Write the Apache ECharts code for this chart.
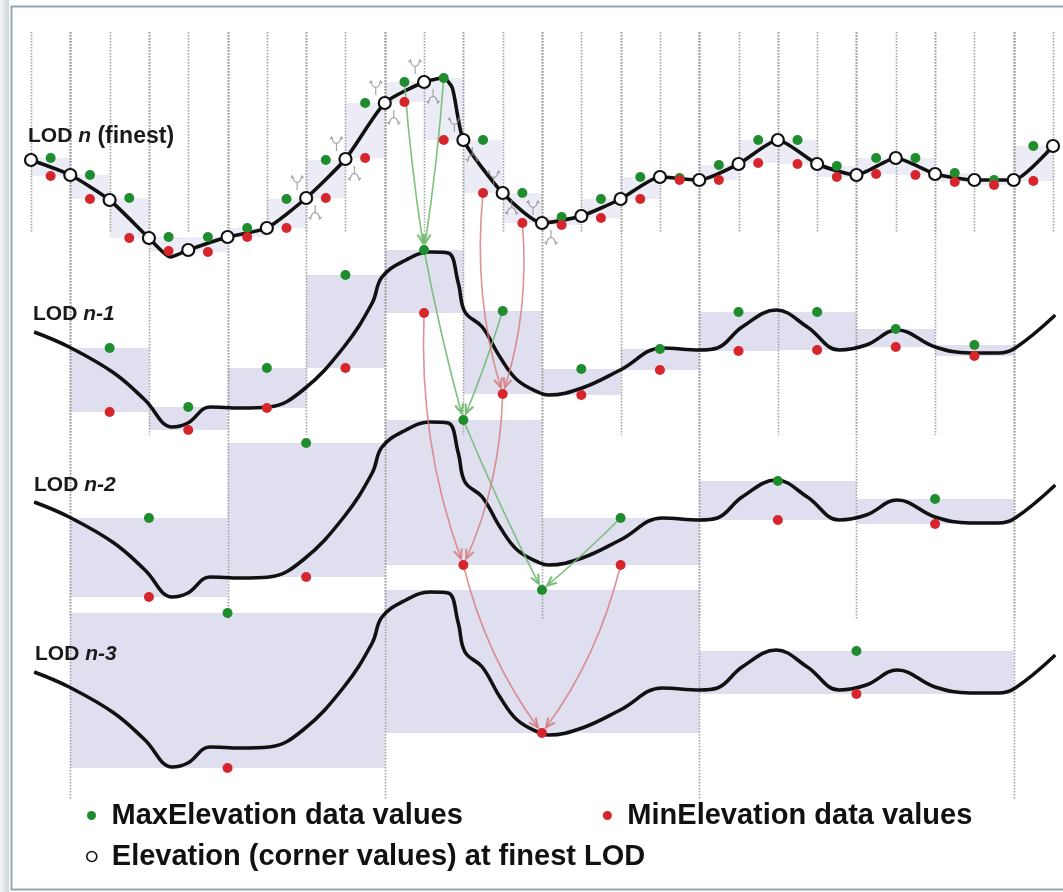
<!DOCTYPE html>
<html><head><meta charset="utf-8">
<script src="https://cdn.jsdelivr.net/npm/echarts@6/dist/echarts.min.js"></script>
<style>html,body{margin:0;padding:0;background:#fff}#c{width:1063px;height:892px}</style>
</head><body><div id="c"></div>
<script>
// x unit: one finest-LOD cell (corner index 0..26); y: elevation units
const levelNames = ['n', 'n-1', 'n-2', 'n-3'];
const cornerElev = [140,125,100,62,50,63,72,102,141,197,218,160,107,77,84,101,123,120,136,160,136,125,142,126,120,120,154];
const fineProfileX = [0,1,2,3,3.55,4,5,6,7,8,9,10,10.5,10.72,11,12,13,14,15,16,17,18,19,20,21,22,23,24,25,26];
const fineProfileE = [140,125,100,62,43,50,63,72,102,141,197,218,222,212,160,107,77,84,101,123,120,136,160,136,125,142,126,120,120,154];
const coarseProfileX = [0.08,0.97,2.11,2.9,3.59,3.99,4.55,5.34,6.06,6.92,7.96,8.68,8.93,9.54,10.15,10.61,10.87,11.04,11.48,11.93,12.37,12.95,13.16,14.02,14.99,16.06,17.02,17.46,18.09,18.96,19.75,20.56,21.25,22.04,23,23.89,24.61,25.04,26.06];
const coarseProfileE = [138,123,97,70,43,47,63,62,63,80,123,167,193,210,218,217,187,158,143,113,90,77,75,82,100,122,120,122,143,160,143,120,125,140,123,117,117,122,155];
const maxN0 = [142,125,102,63,63,72,101,140,197,218,222,160,107,83,101,123,122,135,160,160,134,142,142,127,120,154];
const minN0 = [124,101,62,49,48,63,72,102,142,198,160,107,77,75,82,101,120,120,137,136,123,126,125,118,115,119];
const maxN1 = [122,63,102,195,220,159,101,121,158,158,141,125];
const minN1 = [58,40,62,102,157,76,75,100,119,120,123,114];
const maxN2 = [122,197,220,122,159,141];
const minN2 = [43,63,75,75,120,116];
const maxN3 = [197,220,159];
const minN3 = [42,77,116];
const blockStart = [0, 1, 1, 1];
const blockSpan = [1, 2, 4, 8];
// arrows: [fromLevel, fromBlock, toLevel, toBlock, kind 0=max 1=min]
const arrowList = [
  [0,9,1,4,0],[0,10,1,4,0],[1,4,2,2,0],[1,5,2,2,0],[2,2,3,1,0],[2,3,3,1,0],
  [0,11,1,5,1],[0,12,1,5,1],[1,4,2,2,1],[1,5,2,2,1],[2,2,3,1,1],[2,3,3,1,1]
];
const squiggleCorners = [7,8,9,10,11,12,13];
const legendMax = 'MaxElevation data values';
const legendMin = 'MinElevation data values';
const legendCorner = 'Elevation (corner values) at finest LOD';

const maxArr = [maxN0, maxN1, maxN2, maxN3];
const minArr = [minN0, minN1, minN2, minN3];
const FF = '"Liberation Sans", Arial, sans-serif';
const GREEN = '#1f8c2e', RED = '#d7252d';
const gridH = [200, 403, 588, 768];
const yMax = [268, 438, 608, 778];

const chart = echarts.init(document.getElementById('c'));
const center = (lv, j) => blockStart[lv] + (j + 0.5) * blockSpan[lv];

const grids = [], xAxes = [], yAxes = [], series = [];
for (let lv = 0; lv < 4; lv++) {
  grids.push({left: 31, width: 1022, top: 32, height: gridH[lv], outerBoundsMode: 'none'});
  xAxes.push({type: 'value', gridIndex: lv, min: 0, max: 26, show: false});
  yAxes.push({type: 'value', gridIndex: lv, min: yMax[lv] - gridH[lv], max: yMax[lv], show: false});
  const nb = maxArr[lv].length;
  // shaded min-max rectangles
  series.push({
    type: 'custom', xAxisIndex: lv, yAxisIndex: lv, z: 1, silent: true, clip: false,
    data: maxArr[lv].map((mx, j) => [blockStart[lv] + j * blockSpan[lv], minArr[lv][j], blockStart[lv] + (j + 1) * blockSpan[lv], mx]),
    renderItem: (params, api) => {
      const a = api.coord([api.value(0), api.value(3)]);
      const b = api.coord([api.value(2), api.value(1)]);
      return {type: 'rect', shape: {x: a[0], y: a[1], width: b[0] - a[0], height: b[1] - a[1]},
        style: {fill: lv === 0 ? '#ececf6' : '#dfdff0'}};
    }
  });
  // dotted block boundaries
  const bounds = [];
  for (let m = 0; m <= nb; m++) bounds.push([blockStart[lv] + m * blockSpan[lv], yMax[lv]]);
  series.push({
    type: 'custom', xAxisIndex: lv, yAxisIndex: lv, z: 2, silent: true, clip: false, data: bounds,
    renderItem: (params, api) => {
      const x = Math.round(api.coord([api.value(0), api.value(1)])[0]) + 0.5;
      const cs = params.coordSys;
      return {type: 'line', shape: {x1: x, y1: cs.y, x2: x, y2: cs.y + cs.height},
        style: {stroke: '#a0a0a0', lineWidth: 1.6, lineDash: [1.6, 1.4]}};
    }
  });
  // terrain curve
  const px = lv === 0 ? fineProfileX : coarseProfileX;
  const pe = lv === 0 ? fineProfileE : coarseProfileE;
  series.push({
    type: 'line', xAxisIndex: lv, yAxisIndex: lv, z: 3, silent: true, clip: false,
    data: px.map((x, i) => [x, pe[i]]), symbol: 'none', smooth: lv === 0 ? 0.2 : 0.4,
    lineStyle: {color: '#111', width: 3.6}
  });
  // max / min dots
  series.push({
    name: legendMax, type: 'scatter', xAxisIndex: lv, yAxisIndex: lv, z: 6, silent: true, clip: false,
    data: maxArr[lv].map((v, j) => [center(lv, j), v]), symbol: 'circle', symbolSize: 10,
    itemStyle: {color: GREEN, opacity: 1}
  });
  series.push({
    name: legendMin, type: 'scatter', xAxisIndex: lv, yAxisIndex: lv, z: 6, silent: true, clip: false,
    data: minArr[lv].map((v, j) => [center(lv, j), v]), symbol: 'circle', symbolSize: 10,
    itemStyle: {color: RED, opacity: 1}
  });
}
// corner values at finest LOD
series.push({
  name: legendCorner, type: 'scatter', xAxisIndex: 0, yAxisIndex: 0, z: 8, silent: true, clip: false,
  data: cornerElev.map((v, i) => [i, v]), symbol: 'circle', symbolSize: 12,
  itemStyle: {color: '#fff', borderColor: '#111', borderWidth: 2.2, opacity: 1}
});
// small grey squiggle arrows near corners
const squigglePath = 'path://M7,14 L7,7 Q3,7 2,1 M7,7 Q11,7 12,1 M0,3 L2,1 L3,4 M11,4 L12,1 L14,3';
series.push({
  type: 'scatter', xAxisIndex: 0, yAxisIndex: 0, z: 5, silent: true, clip: false,
  data: squiggleCorners.map(i => [i, cornerElev[i]]), symbol: squigglePath, symbolSize: [13, 14],
  symbolOffset: [-9, -15], itemStyle: {color: 'rgba(0,0,0,0)', borderColor: '#8a8a8a', borderWidth: 1.2}
});
series.push({
  type: 'scatter', xAxisIndex: 0, yAxisIndex: 0, z: 5, silent: true, clip: false,
  data: squiggleCorners.map(i => [i, cornerElev[i]]), symbol: squigglePath, symbolSize: [13, 14],
  symbolRotate: 180, symbolOffset: [9, 14], itemStyle: {color: 'rgba(0,0,0,0)', borderColor: '#8a8a8a', borderWidth: 1.2}
});
// aggregation arrows between levels
const pos = (lv, j, kind) => chart.convertToPixel({gridIndex: lv}, [center(lv, j), (kind === 0 ? maxArr : minArr)[lv][j]]);
series.push({
  type: 'custom', xAxisIndex: 0, yAxisIndex: 0, z: 4, silent: true, clip: false,
  data: arrowList.map((a, i) => [i, 100]),
  renderItem: (params) => {
    const a = arrowList[params.dataIndex];
    const p = pos(a[0], a[1], a[4]), q = pos(a[2], a[3], a[4]);
    const color = a[4] === 0 ? 'rgba(112,186,112,0.9)' : 'rgba(214,120,120,0.8)';
    const dx = q[0] - p[0], dy = q[1] - p[1];
    const c = (a[4] === 0 ? 0.02 : 0.1) * (dx >= 0 ? 1 : -1);
    const cx = (p[0] + q[0]) / 2 - dy * c, cy = (p[1] + q[1]) / 2 + dx * c;
    let tx = q[0] - cx, ty = q[1] - cy; const tl = Math.hypot(tx, ty); tx /= tl; ty /= tl;
    const ex = q[0] - tx * 7, ey = q[1] - ty * 7;
    const hl = 10, ang = 0.42, co = Math.cos(ang), si = Math.sin(ang);
    const h1 = [ex - hl * (tx * co - ty * si), ey - hl * (ty * co + tx * si)];
    const h2 = [ex - hl * (tx * co + ty * si), ey - hl * (ty * co - tx * si)];
    return {type: 'group', children: [
      {type: 'bezierCurve', shape: {x1: p[0], y1: p[1], x2: ex, y2: ey, cpx1: cx, cpy1: cy}, style: {stroke: color, lineWidth: 1.6, fill: null}},
      {type: 'polyline', shape: {points: [h1, [ex, ey], h2]}, style: {stroke: color, lineWidth: 2.2, fill: null}}
    ]};
  }
});

const labelRich = {
  b: {fontSize: 21, fontWeight: 'bold', fontFamily: FF, fill: '#1a1a1a'},
  i: {fontSize: 21, fontWeight: 'bold', fontStyle: 'italic', fontFamily: FF, fill: '#1a1a1a'},
  f: {fontSize: 23, fontWeight: 'bold', fontFamily: FF, fill: '#1a1a1a'}
};
const labelTops = [125, 304, 475, 644];
const labelLefts = [28, 33, 34, 35];
const graphics = [
  {type: 'rect', left: 0, top: 0, shape: {width: 9, height: 892}, style: {fill: new echarts.graphic.LinearGradient(0, 0, 1, 0, [{offset: 0, color: '#f3f4f5'}, {offset: 1, color: '#cfd5d8'}])}, z: 0},
  {type: 'rect', left: 9, top: 4, shape: {width: 1070, height: 883}, style: {fill: null, stroke: '#93a9b2', lineWidth: 2}, z: 0}
];
levelNames.forEach((nm, lv) => {
  graphics.push({type: 'text', left: labelLefts[lv], top: labelTops[lv], z: 20,
    style: {text: '{b|LOD }{i|' + nm + '}' + (lv === 0 ? '{f| (finest)}' : ''), rich: labelRich}});
});

const legendText = {fontSize: 29, fontWeight: 'bold', fontFamily: FF, color: '#111'};
chart.setOption({
  animation: false,
  backgroundColor: '#fff',
  grid: grids, xAxis: xAxes, yAxis: yAxes,
  legend: [
    {left: 82, top: 796, orient: 'horizontal', itemWidth: 30, itemHeight: 9, itemGap: 140, selectedMode: false,
      textStyle: legendText, data: [{name: legendMax, icon: 'circle'}, {name: legendMin, icon: 'circle'}]},
    {left: 81, top: 837, orient: 'horizontal', itemWidth: 30, itemHeight: 10, selectedMode: false,
      textStyle: legendText, data: [{name: legendCorner, icon: 'circle', itemStyle: {color: '#fff', borderColor: '#111', borderWidth: 1.6}}]}
  ],
  graphic: graphics,
  series: series
});
</script></body></html>
